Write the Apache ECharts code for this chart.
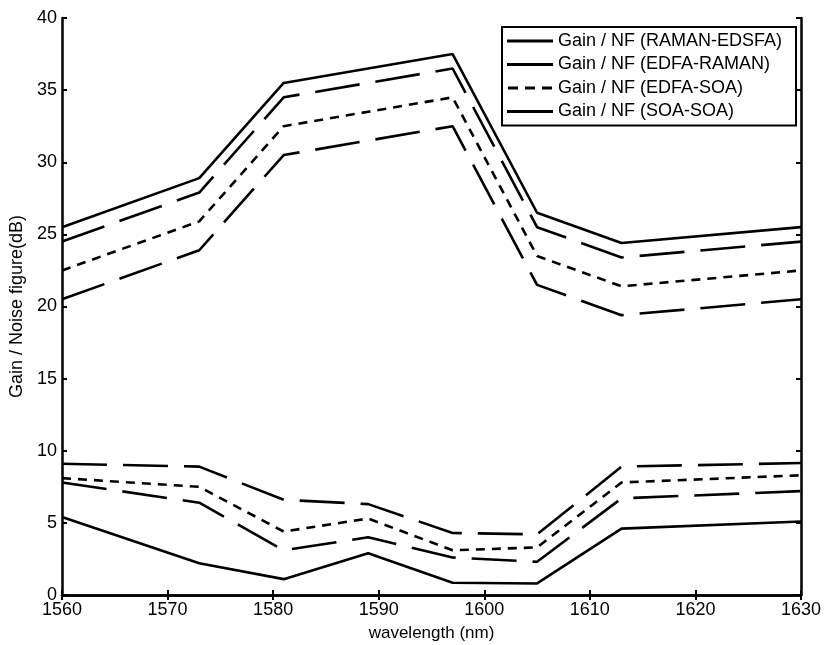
<!DOCTYPE html>
<html>
<head>
<meta charset="utf-8">
<script src="https://cdn.jsdelivr.net/npm/echarts@6/dist/echarts.min.js"></script>
<style>html,body{margin:0;padding:0;background:#fff}#c{width:825px;height:645px}</style>
</head>
<body>
<div id="c"></div>
<script>
var wavelength = [1560, 1573, 1581, 1589, 1597, 1605, 1613, 1630];
var seriesNames = ['Gain / NF (RAMAN-EDSFA)', 'Gain / NF (EDFA-RAMAN)', 'Gain / NF (EDFA-SOA)', 'Gain / NF (SOA-SOA)'];
var gainRamanEdsfa = [25.5, 28.9, 35.5, 36.5, 37.5, 26.5, 24.4, 25.5];
var gainEdfaRaman  = [24.5, 27.9, 34.5, 35.5, 36.5, 25.5, 23.4, 24.5];
var gainEdfaSoa    = [22.5, 25.9, 32.5, 33.5, 34.5, 23.5, 21.4, 22.5];
var gainSoaSoa     = [20.5, 23.9, 30.5, 31.5, 32.5, 21.5, 19.4, 20.5];
var nfRamanEdsfa   = [5.4, 2.2, 1.1, 2.9, 0.85, 0.8, 4.6, 5.1];
var nfEdfaRaman    = [7.8, 6.4, 3.1, 4.0, 2.6, 2.3, 6.7, 7.2];
var nfEdfaSoa      = [8.1, 7.5, 4.4, 5.3, 3.1, 3.3, 7.8, 8.3];
var nfSoaSoa       = [9.1, 8.9, 6.6, 6.3, 4.3, 4.2, 8.9, 9.15];

var FONT = "'Liberation Sans', Arial, Helvetica, sans-serif";
var longDash = [45, 16];
var shortDash = [9, 7];
var styles = ['solid', longDash, shortDash, longDash];
var gains = [gainRamanEdsfa, gainEdfaRaman, gainEdfaSoa, gainSoaSoa];
var nfs = [nfRamanEdsfa, nfEdfaRaman, nfEdfaSoa, nfSoaSoa];

function pairs(arr) { return wavelength.map(function (w, i) { return [w, arr[i]]; }); }

var series = [];
for (var k = 0; k < 4; k++) {
  [gains[k], nfs[k]].forEach(function (arr) {
    series.push({
      name: seriesNames[k], type: 'line', data: pairs(arr),
      symbol: 'none', showSymbol: false, silent: true, animation: false,
      lineStyle: { color: '#000', width: 2.6, type: styles[k] },
      itemStyle: { color: '#000' }
    });
  });
}

var solidIcon = 'rect';
var dashIcon = 'path://M0,0h10v3h-10zM17,0h10v3h-10zM34,0h10v3h-10z';

var axisLine = { show: true, lineStyle: { color: '#000', width: 2.5 } };
var tickIn = { show: true, inside: true, length: 5, lineStyle: { color: '#000', width: 2 } };
var plain = function (v) { return String(v); };

var chart = echarts.init(document.getElementById('c'), null, { renderer: 'canvas' });
chart.setOption({
  backgroundColor: '#fff',
  animation: false,
  grid: { left: 62, right: 24, top: 18, bottom: 50, outerBoundsMode: 'none', containLabel: false },
  legend: {
    orient: 'vertical', left: 502, top: 27,
    padding: [5, 14, 5, 5], itemGap: 5.5, itemWidth: 46, itemHeight: 3,
    borderColor: '#000', borderWidth: 2, backgroundColor: '#fff',
    itemStyle: { color: '#000', borderWidth: 0 },
    textStyle: { color: '#000', fontFamily: FONT, fontSize: 18 },
    data: [
      { name: seriesNames[0], icon: solidIcon },
      { name: seriesNames[1], icon: solidIcon },
      { name: seriesNames[2], icon: dashIcon },
      { name: seriesNames[3], icon: solidIcon }
    ]
  },
  xAxis: [{
    type: 'value', min: 1560, max: 1630, interval: 10, position: 'bottom',
    name: 'wavelength (nm)', nameLocation: 'middle', nameGap: 30,
    nameTextStyle: { color: '#000', fontFamily: FONT, fontSize: 17 },
    axisLine: axisLine, axisTick: tickIn, splitLine: { show: false },
    axisLabel: { color: '#000', fontFamily: FONT, fontSize: 18, margin: 6, formatter: plain }
  }, {
    type: 'value', min: 1560, max: 1630, interval: 10, position: 'top',
    axisLine: axisLine, axisTick: tickIn, splitLine: { show: false },
    axisLabel: { show: false }
  }],
  yAxis: [{
    type: 'value', min: 0, max: 40, interval: 5, position: 'left',
    name: 'Gain / Noise figure(dB)', nameLocation: 'middle', nameGap: 33,
    nameTextStyle: { color: '#000', fontFamily: FONT, fontSize: 18 },
    axisLine: axisLine, axisTick: tickIn, splitLine: { show: false },
    axisLabel: { color: '#000', fontFamily: FONT, fontSize: 18, margin: 5, formatter: plain }
  }, {
    type: 'value', min: 0, max: 40, interval: 5, position: 'right',
    axisLine: axisLine, axisTick: tickIn, splitLine: { show: false },
    axisLabel: { show: false }
  }],
  series: series
});
</script>
</body>
</html>
